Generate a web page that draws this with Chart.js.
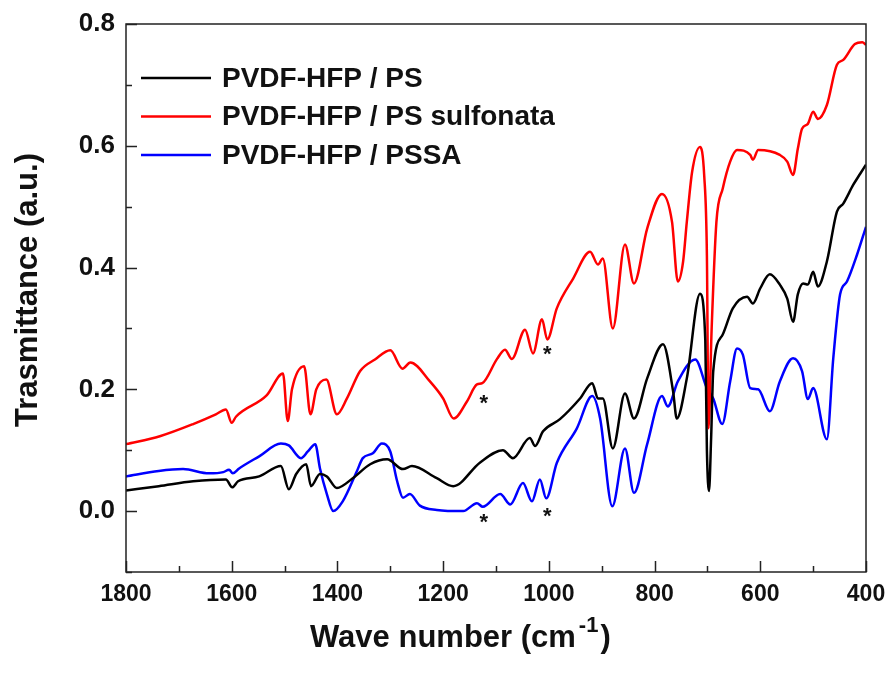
<!DOCTYPE html>
<html>
<head>
<meta charset="utf-8">
<script src="https://cdn.jsdelivr.net/npm/chart.js@4.4.0/dist/chart.umd.min.js"></script>
<style>
  body { margin: 0; background: #fff; }
</style>
</head>
<body>
<canvas id="myChart" width="889" height="675"></canvas>
<script>
// wave numbers (cm-1) and transmittance
const psWn = [1800,1738,1673,1611,1599,1588,1548,1507,1492,1478,1459,1450,1433,1420,1401,1371,1338,1306,1276,1259,1212,1181,1130,1087,1068,1036,1026,1011,979,941,918,907,898,879,856,839,814,784,765,758,739,714,704,701,697,693,689,671,652,625,614,600,582,563,549,538,529,519,510,500,491,474,455,443,424,411,400];
const psT = [0.034,0.041,0.049,0.052,0.039,0.049,0.057,0.074,0.036,0.061,0.077,0.041,0.061,0.057,0.038,0.054,0.077,0.085,0.069,0.074,0.054,0.041,0.080,0.100,0.087,0.120,0.107,0.131,0.151,0.185,0.210,0.185,0.185,0.103,0.193,0.152,0.218,0.274,0.197,0.152,0.218,0.357,0.28,0.10,0.033,0.12,0.23,0.29,0.333,0.352,0.341,0.366,0.389,0.372,0.349,0.311,0.356,0.374,0.372,0.393,0.369,0.410,0.492,0.505,0.536,0.554,0.569];

const sulfWn = [1800,1736,1673,1630,1611,1600,1592,1534,1503,1494,1486,1463,1451,1440,1421,1401,1382,1357,1329,1300,1277,1262,1225,1200,1180,1155,1136,1126,1098,1083,1070,1045,1030,1013,1003,985,954,922,907,898,879,856,839,814,786,767,756,746,739,729,714,706,701,698,692,683,671,657,644,619,614,604,563,549,538,529,521,510,500,491,474,455,443,421,407,400];
const sulfT = [0.110,0.123,0.143,0.159,0.167,0.145,0.155,0.190,0.226,0.148,0.200,0.238,0.159,0.200,0.216,0.159,0.185,0.230,0.249,0.264,0.234,0.244,0.213,0.185,0.152,0.180,0.208,0.210,0.250,0.265,0.250,0.298,0.259,0.315,0.282,0.333,0.382,0.426,0.405,0.415,0.300,0.438,0.374,0.464,0.521,0.475,0.377,0.410,0.475,0.557,0.598,0.55,0.42,0.136,0.30,0.475,0.530,0.574,0.593,0.585,0.577,0.593,0.585,0.574,0.552,0.595,0.628,0.636,0.656,0.644,0.667,0.733,0.741,0.767,0.770,0.766];

const pssaWn = [1800,1738,1692,1643,1616,1605,1598,1586,1548,1507,1492,1469,1456,1442,1433,1420,1408,1390,1363,1352,1333,1316,1300,1287,1276,1263,1244,1212,1162,1136,1125,1092,1073,1049,1032,1017,1005,985,947,918,903,880,856,839,814,786,775,756,723,701,689,672,657,644,633,619,604,582,563,538,521,510,500,474,462,449,436,417,400];
const pssaT = [0.057,0.066,0.069,0.062,0.064,0.068,0.062,0.070,0.090,0.111,0.108,0.087,0.098,0.110,0.070,0.028,0.000,0.016,0.066,0.087,0.095,0.111,0.098,0.049,0.022,0.028,0.009,0.002,0.000,0.013,0.007,0.028,0.011,0.046,0.016,0.052,0.021,0.079,0.136,0.189,0.152,0.008,0.103,0.030,0.110,0.189,0.172,0.213,0.249,0.202,0.185,0.143,0.213,0.267,0.257,0.202,0.200,0.164,0.213,0.251,0.230,0.184,0.202,0.118,0.25,0.356,0.377,0.421,0.467];

const seriesNames = ['PVDF-HFP / PS', 'PVDF-HFP / PS sulfonata', 'PVDF-HFP / PSSA'];
const seriesColors = ['#000000', '#ff0000', '#0000ff'];

// asterisks marking the sulfonate bands
const starWn = [1123, 1003, 1123, 1003];
const starT = [0.185, 0.264, -0.011, -0.002];

const FONT = "'Liberation Sans', Arial, sans-serif";

function pts(wn, t) {
    return wn.map((w, i) => ({x: w, y: t[i]}));
}

// frame, inward ticks, legend, asterisks and axis titles
const extras = {
    id: 'extras',
    afterDatasetsDraw(chart) {
        const ctx = chart.ctx;
        const a = chart.chartArea;
        const x = chart.scales.x, y = chart.scales.y;
        ctx.save();
        ctx.strokeStyle = '#222';
        ctx.lineWidth = 1.5;
        ctx.strokeRect(a.left, a.top, a.right - a.left, a.bottom - a.top);
        ctx.beginPath();
        x.ticks.forEach(t => {
            const px = Math.round(x.getPixelForValue(t.value)) + 0.5;
            const len = t.value % 200 === 0 ? 11 : 6;
            ctx.moveTo(px, a.bottom);
            ctx.lineTo(px, a.bottom - len);
        });
        y.ticks.forEach(t => {
            const py = Math.round(y.getPixelForValue(t.value)) + 0.5;
            const len = Math.round(t.value * 10) % 2 === 0 ? 11 : 6;
            ctx.moveTo(a.left, py);
            ctx.lineTo(a.left + len, py);
        });
        ctx.stroke();

        // legend
        ctx.font = 'bold 28px ' + FONT;
        ctx.textBaseline = 'middle';
        ctx.textAlign = 'left';
        chart.data.datasets.forEach((ds, i) => {
            const ly = 78 + i * 38.5;
            ctx.strokeStyle = ds.borderColor;
            ctx.lineWidth = 2.5;
            ctx.beginPath();
            ctx.moveTo(141, ly);
            ctx.lineTo(211, ly);
            ctx.stroke();
            ctx.fillStyle = '#111';
            ctx.fillText(ds.label, 222, ly + 1);
        });

        // asterisks
        ctx.font = 'bold 22px ' + FONT;
        ctx.textAlign = 'center';
        ctx.fillStyle = '#111';
        starWn.forEach((w, i) => {
            ctx.fillText('*', x.getPixelForValue(w), y.getPixelForValue(starT[i]) + 5);
        });

        // y axis title
        ctx.save();
        ctx.translate(28, 290);
        ctx.rotate(-Math.PI / 2);
        ctx.font = 'bold 31px ' + FONT;
        ctx.textAlign = 'center';
        ctx.textBaseline = 'middle';
        ctx.fillText('Trasmittance (a.u.)', 0, 0);
        ctx.restore();

        // x axis title with superscript
        ctx.textAlign = 'left';
        ctx.textBaseline = 'alphabetic';
        ctx.font = 'bold 31px ' + FONT;
        let tx = 310;
        const base = 647;
        ctx.fillText('Wave number (cm', tx, base);
        tx += ctx.measureText('Wave number (cm').width + 3;
        ctx.font = 'bold 22px ' + FONT;
        ctx.fillText('-1', tx, base - 15);
        tx += ctx.measureText('-1').width + 2;
        ctx.font = 'bold 31px ' + FONT;
        ctx.fillText(')', tx, base);
        ctx.restore();
    }
};

const config = {
    type: 'line',
    data: {
        datasets: [
            {label: seriesNames[0], data: pts(psWn, psT), borderColor: seriesColors[0]},
            {label: seriesNames[1], data: pts(sulfWn, sulfT), borderColor: seriesColors[1]},
            {label: seriesNames[2], data: pts(pssaWn, pssaT), borderColor: seriesColors[2]}
        ]
    },
    options: {
        responsive: false,
        animation: false,
        elements: {
            point: {radius: 0},
            line: {borderWidth: 2.5, cubicInterpolationMode: 'monotone', fill: false}
        },
        layout: {padding: {left: 0, right: 23, top: 24, bottom: 0}},
        plugins: {
            legend: {display: false},
            tooltip: {enabled: false}
        },
        scales: {
            x: {
                type: 'linear',
                reverse: true,
                min: 400,
                max: 1800,
                grid: {display: false, drawTicks: false},
                border: {display: false},
                ticks: {
                    stepSize: 100,
                    autoSkip: false,
                    maxRotation: 0,
                    padding: 9,
                    color: '#111',
                    font: {family: FONT, size: 23, weight: 'bold'},
                    callback: v => (v % 200 === 0 ? String(v) : '')
                },
                title: {display: false},
                afterFit: s => { s.height = 103; s.paddingLeft = 0; s.paddingRight = 0; }
            },
            y: {
                min: -0.1,
                max: 0.8,
                grid: {display: false, drawTicks: false},
                border: {display: false},
                ticks: {
                    stepSize: 0.1,
                    autoSkip: false,
                    padding: 11,
                    color: '#111',
                    font: {family: FONT, size: 26, weight: 'bold'},
                    callback: v => (Math.round(v * 10) % 2 === 0 && v > -0.05 ? v.toFixed(1) : '')
                },
                title: {display: false},
                afterFit: s => { s.width = 126; s.paddingTop = 0; s.paddingBottom = 0; }
            }
        }
    },
    plugins: [extras]
};

var chart = new Chart(document.getElementById('myChart'), config);
</script>
</body>
</html>
